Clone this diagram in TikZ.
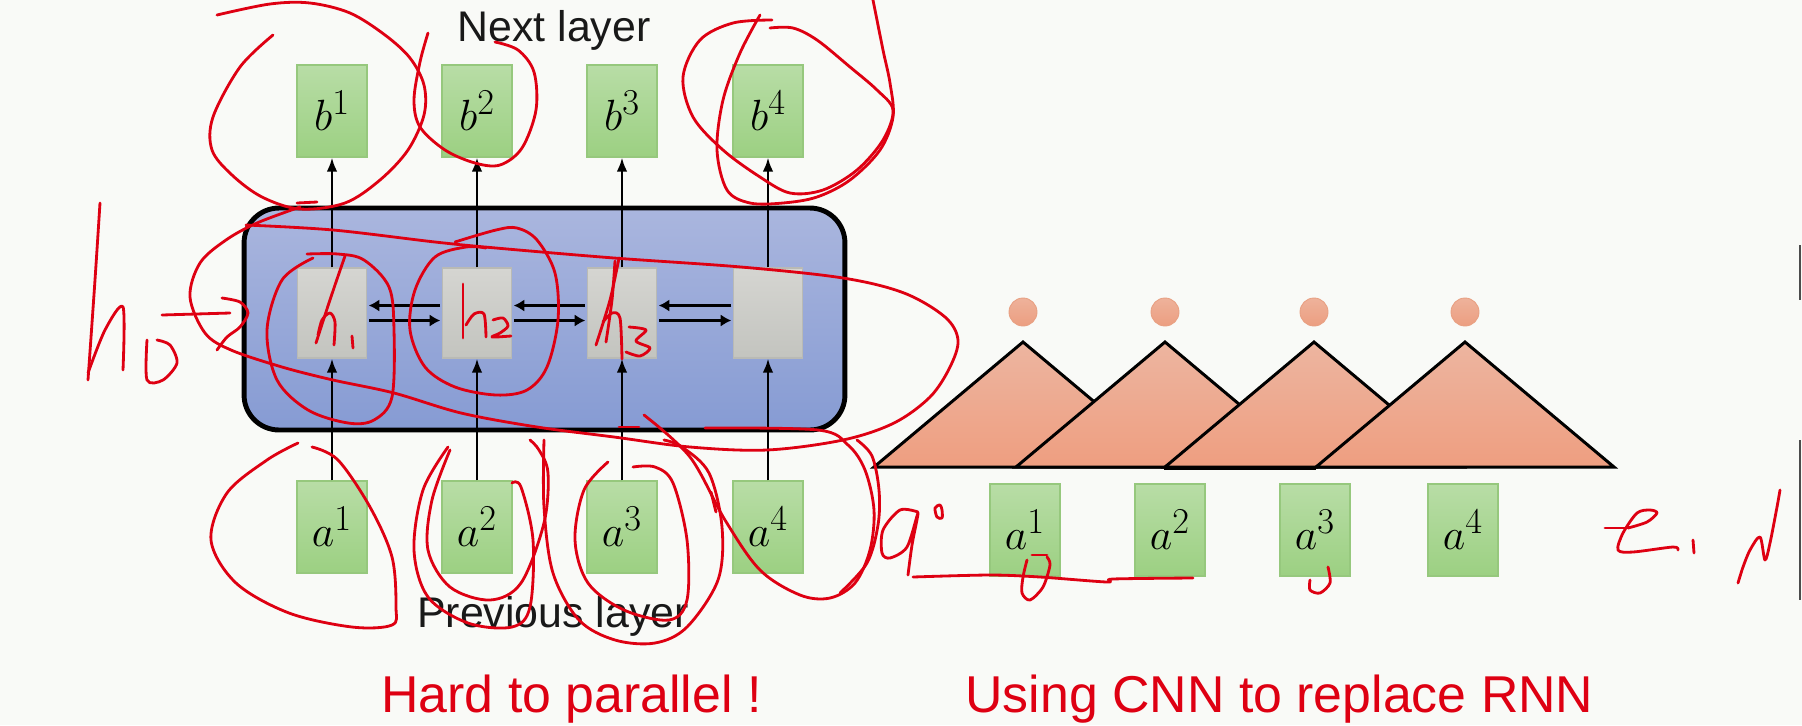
\documentclass[tikz,border=0pt]{standalone}
\usepackage{fontspec}
\newfontfamily\slidefont{Liberation Sans}
\usetikzlibrary{arrows.meta,positioning}

\definecolor{slidebg}{RGB}{249,250,247}
\definecolor{boxgreenT}{RGB}{184,221,166}
\definecolor{boxgreenB}{RGB}{156,208,130}
\definecolor{boxgreenL}{RGB}{150,200,125}
\definecolor{cellgrayT}{RGB}{213,213,209}
\definecolor{cellgrayB}{RGB}{195,196,191}
\definecolor{cellgrayL}{RGB}{185,186,181}
\definecolor{rnnblueT}{RGB}{170,182,222}
\definecolor{rnnblueB}{RGB}{134,155,211}
\definecolor{filtT}{RGB}{237,181,160}
\definecolor{filtB}{RGB}{238,158,128}
\definecolor{inkred}{RGB}{222,0,18}

\begin{document}
\begin{tikzpicture}[x=0.02cm, y=-0.02cm,
  inbox/.style={rectangle, draw=boxgreenL, line width=0.6pt, top color=boxgreenT, bottom color=boxgreenB, minimum width=1.4cm, minimum height=1.84cm, inner sep=0pt, font=\fontsize{30}{30}\selectfont},
  cell/.style={rectangle, draw=cellgrayL, line width=0.6pt, top color=cellgrayT, bottom color=cellgrayB, minimum width=1.38cm, minimum height=1.8cm, inner sep=0pt},
  rnn/.style={rectangle, draw=black, line width=2.8pt, rounded corners=0.7cm, top color=rnnblueT, bottom color=rnnblueB, minimum width=12.02cm, minimum height=4.44cm},
  uparr/.style={-{Latex[length=8pt,width=6pt]}, line width=1.4pt},
  sidearr/.style={-{Latex[length=6pt,width=7pt]}, line width=2.2pt, shorten >=1pt, shorten <=1pt},
  filt/.style={draw=black, line width=1.7pt, top color=filtT, bottom color=filtB},
  outdot/.style={circle, draw={rgb,255:red,232;green,160;blue,130}, line width=0.5pt, top color={rgb,255:red,238;green,178;blue,155}, bottom color={rgb,255:red,236;green,158;blue,128}, minimum size=0.56cm, inner sep=0pt},
  layertxt/.style={font=\slidefont\fontsize{24.4}{26}\selectfont, text={rgb,255:red,25;green,25;blue,25}, inner sep=0pt},
  redcap/.style={font=\slidefont\fontsize{29.5}{31}\selectfont, text=inkred, inner sep=0pt},
  scrib/.style={inkred, line width=1.6pt, line cap=round, line join=round},
]
  % slide
  \fill[slidebg] (0,0) rectangle (1802,725);
  \useasboundingbox (0,0) rectangle (1802,725);

  % RNN block
  \node[rnn] (rnn) at (544.5,319) {};
  \foreach \i/\x in {1/332,2/477,3/622,4/768} {
    \node[inbox] (b\i) at (\x,111) {$b^{\i}$};
    \node[cell] (h\i) at (\x,313) {};
    \node[inbox] (a\i) at (\x,527) {$a^{\i}$};
    \draw[uparr] (a\i) -- (h\i);
    \draw[uparr] (h\i) -- (b\i);
  }
  \foreach \i/\j in {1/2,2/3,3/4} {
    \draw[sidearr] ([yshift=0.15cm]h\j.west) -- ([yshift=0.15cm]h\i.east);
    \draw[sidearr] ([yshift=-0.15cm]h\i.east) -- ([yshift=-0.15cm]h\j.west);
  }

  % CNN filters
  \foreach \i/\x in {1/1023,2/1165,3/1314,4/1465} {
    \draw[filt] (\x-149,467) -- (\x,342) -- (\x+149,467) -- cycle;
    \node[outdot] (o\i) at (\x,312) {};
  }
  \draw[line width=2.6pt] (1164,468) -- (1316,468);
  \foreach \i/\x in {1/1025,2/1170,3/1315,4/1463}
    \node[inbox] (c\i) at (\x,530) {$a^{\i}$};

  % texts
  \node[layertxt, anchor=base] (next) at (554,41.5) {Next layer};
  \node[layertxt, anchor=base] (prev) at (553,627) {Previous layer};
  \node[redcap, anchor=base] (rnncap) at (571.5,712) {Hard to parallel !};
  \node[redcap, anchor=base] (cnncap) at (1279.5,712) {Using CNN to replace RNN};

  % handwriting
  \draw[scrib] plot[smooth, tension=0.55] coordinates {(273,35) (240,67) (213,117) (212,150) (232,175) (262,197) (300,209) (345,203) (380,180) (408,150) (424,115) (424,85) (410,58) (385,35) (350,13) (310,3) (270,4) (217,15)};
  \draw[scrib] (297,203) -- (317,202);
  \draw[scrib] plot[smooth, tension=0.55] coordinates {(428,33) (420,62) (414,100) (420,127) (445,150) (475,163) (500,165) (522,148) (536,110) (534,72) (518,50) (495,42)};
  \draw[scrib] plot[smooth, tension=0.55] coordinates {(772,20) (733,23) (700,40) (683,77) (693,117) (723,150) (760,177) (790,193) (823,190) (857,170) (883,140) (893,110) (877,90) (850,67) (817,40) (793,28) (770,28)};
  \draw[scrib] plot[smooth, tension=0.55] coordinates {(760,15) (740,53) (723,100) (717,150) (727,190) (750,203) (783,203) (817,197) (850,180) (880,150) (893,117) (890,83) (883,50) (873,0)};
  \draw[scrib] plot[smooth, tension=0.55] coordinates {(246,225) (333,230) (435,242) (496,248) (614,258) (741,267) (843,278) (904,293) (945,317) (958,340) (950,367) (930,397) (894,423) (843,440) (767,450) (690,447) (614,437) (537,427) (461,413) (394,393) (333,380) (282,367) (231,350) (205,333) (190,297) (200,263) (226,240) (257,223) (300,207)};
  \draw[scrib] plot[smooth, tension=0.55] coordinates {(857,440) (872,456) (879,490) (878,525) (867,563) (840,593)};
  \draw[scrib] plot[smooth, tension=0.55] coordinates {(307,254) (338,254) (364,260) (389,287) (394,330) (392,397) (374,420) (348,423) (308,410) (277,380) (267,330) (282,280) (313,258)};
  \draw[scrib] plot[smooth, tension=0.55] coordinates {(455,242) (496,230) (517,228) (537,240) (555,273) (558,320) (547,367) (527,390) (496,395) (455,387) (425,367) (410,330) (415,290) (435,257) (466,247) (486,248)};
  % h1 h2 h3
  \draw[scrib] plot[smooth] coordinates {(345,256) (335,285) (325,315) (316,343)};
  \draw[scrib] plot[smooth] coordinates {(318,335) (322,320) (330,313) (335,322) (334,345)};
  \draw[scrib] (352,336) -- (353,348);
  \draw[scrib] (463,284) -- (463,338);
  \draw[scrib] plot[smooth] coordinates {(466,325) (474,314) (484,314) (486,337)};
  \draw[scrib] plot[smooth] coordinates {(493,320) (503,318) (508,326) (500,333) (492,337) (511,336)};
  \draw[scrib] plot[smooth] coordinates {(619,258) (610,300) (596,345)};
  \draw[scrib] plot[smooth] coordinates {(615,261) (612,300) (606,342)};
  \draw[scrib] plot[smooth] coordinates {(603,322) (612,313) (620,318) (622,359)};
  \draw[scrib] plot[smooth] coordinates {(629,327) (646,330) (636,341) (650,348) (640,356) (626,352)};
  % h0
  \draw[scrib] plot[smooth] coordinates {(100,203) (95,280) (88,380)};
  \draw[scrib] plot[smooth] coordinates {(88,373) (105,330) (123,307) (123,370)};
  \draw[scrib] plot[smooth] coordinates {(147,340) (147,380) (163,380) (177,363) (170,345) (157,340)};
  \draw[scrib] (162,315) -- (230,313);
  \draw[scrib] plot[smooth] coordinates {(222,298) (240,302) (248,313) (240,327) (227,337) (217,350)};
  % input loops
  \draw[scrib] plot[smooth, tension=0.55] coordinates {(312,447) (338,460) (370,507) (392,557) (396,607) (392,625) (352,627) (289,613) (236,583) (211,540) (227,493) (267,460) (298,443)};
  \draw[scrib] plot[smooth, tension=0.55] coordinates {(448,447) (423,490) (414,550) (428,597) (468,623) (512,627) (530,607) (533,540) (521,487) (512,483)};
  \draw[scrib] plot[smooth, tension=0.55] coordinates {(450,450) (432,500) (428,550) (450,587) (490,600) (521,583) (544,523) (548,473) (539,450) (530,440)};
  \draw[scrib] plot[smooth, tension=0.55] coordinates {(608,462) (584,490) (575,540) (588,583) (624,610) (669,620) (687,600) (687,540) (673,483) (655,467) (633,467)};
  \draw[scrib] plot[smooth, tension=0.55] coordinates {(544,440) (544,507) (553,573) (579,620) (615,640) (655,643) (687,627) (718,580) (722,527) (709,473) (682,447) (664,440)};
  \draw[scrib] plot[smooth, tension=0.55] coordinates {(644,415) (690,457) (725,520) (760,570) (800,595) (830,598) (855,583) (870,550) (874,510) (865,470) (848,445) (818,430) (705,428)};
  \draw[scrib] (711,492) -- (716,512);
  \draw[scrib] (619,427) -- (639,427);
  % a0, underline, e1
  \draw[scrib] plot[smooth] coordinates {(918,512) (900,510) (883,530) (882,553) (890,558) (907,547) (918,513) (912,545) (908,575)};
  \draw[scrib] plot[smooth cycle] coordinates {(940,505) (935,508) (937,517) (942,518) (942,510)};
  \draw[scrib] plot[smooth] coordinates {(913,577) (990,575) (1040,577) (1107,582) (1113,579) (1193,578)};
  \draw[scrib] plot[smooth] coordinates {(1047,557) (1050,565) (1043,587) (1030,600) (1022,593) (1023,577) (1027,560)};
  \draw[scrib] (1032,555) -- (1047,555);
  \draw[scrib] plot[smooth] coordinates {(1328,567) (1330,583) (1320,593) (1310,590) (1310,580)};
  \draw[scrib] (1605,528) -- (1628,528);
  \draw[scrib] plot[smooth] coordinates {(1628,528) (1647,522) (1657,513) (1650,510) (1637,513) (1623,533) (1618,550) (1633,552) (1673,547) (1678,550)};
  \draw[scrib] (1693,540) -- (1694,553);
  \draw[scrib] plot[smooth] coordinates {(1738,583) (1743,567) (1750,550) (1760,537) (1765,560) (1770,543) (1777,507) (1780,490)};

  % window edge
  \draw[black!70, line width=1.2pt] (1800,245) -- (1800,300) (1800,440) -- (1800,600);
\end{tikzpicture}
\end{document}
